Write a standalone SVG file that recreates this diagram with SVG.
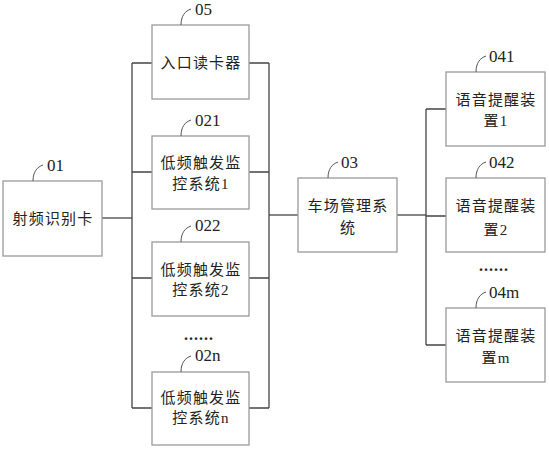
<svg xmlns="http://www.w3.org/2000/svg" width="549" height="450" viewBox="0 0 549 450">
<style>
.box{fill:#fff;stroke:#9a9a9a;stroke-width:1.3}
.t{font-family:"Liberation Serif","Noto Sans CJK SC",serif;font-size:15px;fill:#222;text-anchor:middle;letter-spacing:1.2px}
.lb{font-family:"Liberation Serif",serif;font-size:17px;fill:#222}
.ld{fill:none;stroke:#555;stroke-width:1}
.c{fill:none;stroke:#444;stroke-width:1.3}
.dots{font-family:"Liberation Serif",serif;font-size:16px;font-weight:bold;fill:#222;letter-spacing:1px}
</style>
<rect width="549" height="450" fill="#fff"/>
<g id="connectors">
<path class="c" d="M102 218H132"/>
<path class="c" d="M132 63V408"/>
<path class="c" d="M132 63H152M132 172H152M132 278H152M132 408H152"/>
<path class="c" d="M249 63H269M249 172H269M249 278H269M249 408H269"/>
<path class="c" d="M269 63V408"/>
<path class="c" d="M269 215H298"/>
<path class="c" d="M397 215H426"/>
<path class="c" d="M426 109V345"/>
<path class="c" d="M426 109H446M426 216H446M426 345H446"/>
</g>
<g id="n01">
<rect class="box" x="3" y="181" width="99" height="75"/>
<text class="t" x="53" y="224">射频识别卡</text>
<path class="ld" d="M33 181C33 172 37 167 43 165"/>
<text class="lb" x="47" y="171">01</text>
</g>
<g id="n05">
<rect class="box" x="152" y="25" width="97" height="74"/>
<text class="t" x="201" y="68">入口读卡器</text>
<path class="ld" d="M181 25C181 16 185 11 191 9"/>
<text class="lb" x="195" y="15">05</text>
</g>
<g id="n021">
<rect class="box" x="152" y="136" width="97" height="73"/>
<text class="t" x="201" y="168">低频触发监</text>
<text class="t" x="201" y="189">控系统1</text>
<path class="ld" d="M181 136C181 127 185 122 191 120"/>
<text class="lb" x="195" y="126">021</text>
</g>
<g id="n022">
<rect class="box" x="152" y="242" width="97" height="74"/>
<text class="t" x="201" y="275">低频触发监</text>
<text class="t" x="201" y="295">控系统2</text>
<path class="ld" d="M181 242C181 233 185 228 191 226"/>
<text class="lb" x="195" y="231">022</text>
</g>
<text class="dots" x="184" y="340">......</text>
<g id="n02n">
<rect class="box" x="152" y="372" width="97" height="73"/>
<text class="t" x="201" y="403">低频触发监</text>
<text class="t" x="201" y="423">控系统n</text>
<path class="ld" d="M181 372C181 363 185 358 191 356"/>
<text class="lb" x="195" y="361">02n</text>
</g>
<g id="n03">
<rect class="box" x="298" y="178" width="99" height="74"/>
<text class="t" x="348" y="211">车场管理系</text>
<text class="t" x="348" y="233">统</text>
<path class="ld" d="M328 178C328 169 332 164 338 162"/>
<text class="lb" x="341" y="168">03</text>
</g>
<g id="n041">
<rect class="box" x="446" y="72" width="99" height="74"/>
<text class="t" x="496" y="105">语音提醒装</text>
<text class="t" x="496" y="126">置1</text>
<path class="ld" d="M476 72C476 63 480 58 486 56"/>
<text class="lb" x="489" y="62">041</text>
</g>
<g id="n042">
<rect class="box" x="446" y="178" width="99" height="74"/>
<text class="t" x="496" y="211">语音提醒装</text>
<text class="t" x="496" y="235">置2</text>
<path class="ld" d="M476 178C476 169 480 164 486 162"/>
<text class="lb" x="489" y="168">042</text>
</g>
<text class="dots" x="479" y="271">......</text>
<g id="n04m">
<rect class="box" x="446" y="308" width="99" height="74"/>
<text class="t" x="496" y="341">语音提醒装</text>
<text class="t" x="496" y="363">置m</text>
<path class="ld" d="M476 308C476 299 480 294 486 292"/>
<text class="lb" x="489" y="298">04m</text>
</g>
</svg>
